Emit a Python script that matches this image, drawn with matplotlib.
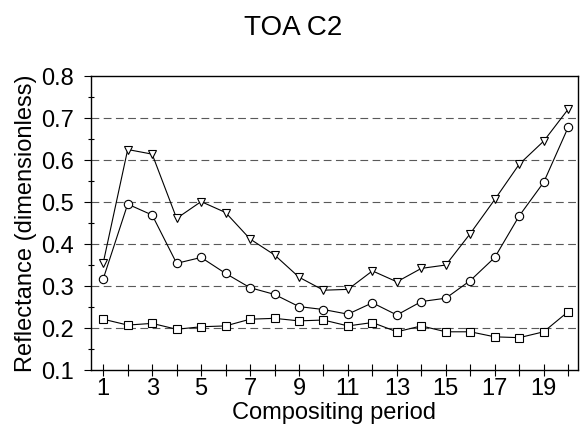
import matplotlib
matplotlib.use('Agg')
import matplotlib.pyplot as plt
from matplotlib.ticker import MultipleLocator
import numpy as np

plt.rcParams['font.family'] = ['Liberation Sans', 'DejaVu Sans']

period = np.arange(1, 21)
tri = [0.355, 0.625, 0.614, 0.461, 0.501, 0.475, 0.412, 0.374, 0.321, 0.290,
       0.292, 0.336, 0.310, 0.342, 0.350, 0.425, 0.506, 0.590, 0.645, 0.721]
circ = [0.317, 0.495, 0.469, 0.354, 0.368, 0.330, 0.296, 0.280, 0.251, 0.244,
        0.233, 0.260, 0.231, 0.263, 0.271, 0.313, 0.368, 0.467, 0.547, 0.678]
sq = [0.221, 0.207, 0.211, 0.197, 0.203, 0.205, 0.221, 0.223, 0.217, 0.219,
      0.205, 0.213, 0.191, 0.205, 0.191, 0.191, 0.179, 0.177, 0.191, 0.239]
xtick_labels = [1, 3, 5, 7, 9, 11, 13, 15, 17, 19]

fig = plt.figure(figsize=(5.81, 4.29), dpi=100)
ax = fig.add_axes([0.1566, 0.1375, 0.8382, 0.6853])

for yv in np.arange(0.2, 0.75, 0.1):
    ax.axhline(yv, color='0.35', lw=0.8, ls=(0, (7, 4)), zorder=0)

kw = dict(color='black', lw=0.8, mfc='white', mec='black', mew=0.8, ms=6)
ax.plot(period, tri, marker='v', **kw)
ax.plot(period, circ, marker='o', **kw)
ax.plot(period, sq, marker='s', **kw)

ax.set_xlim(0.5, 20.4)
ax.set_ylim(0.1, 0.8)
ax.set_xticks(period, minor=True)
ax.set_xticks(xtick_labels)
ax.yaxis.set_major_locator(MultipleLocator(0.1))
ax.yaxis.set_minor_locator(MultipleLocator(0.05))
ax.set_yticklabels(['%.1f' % v for v in ax.get_yticks()])
ax.tick_params(axis='x', which='both', direction='inout', length=8, width=0.8,
               labelsize=17, pad=2)
ax.tick_params(axis='y', which='major', direction='out', length=5, width=0.8,
               labelsize=17, pad=7)
ax.tick_params(axis='y', which='minor', direction='inout', length=5, width=0.8)

for s in ax.spines.values():
    s.set_linewidth(1.0)

ax.set_xlabel('Compositing period', fontsize=17, labelpad=1)
ax.set_ylabel('Reflectance (dimensionless)', fontsize=17, labelpad=3)
fig.text(0.505, 0.935, 'TOA C2', ha='center', va='center', fontsize=20)

fig.savefig('out.png', dpi=100)
